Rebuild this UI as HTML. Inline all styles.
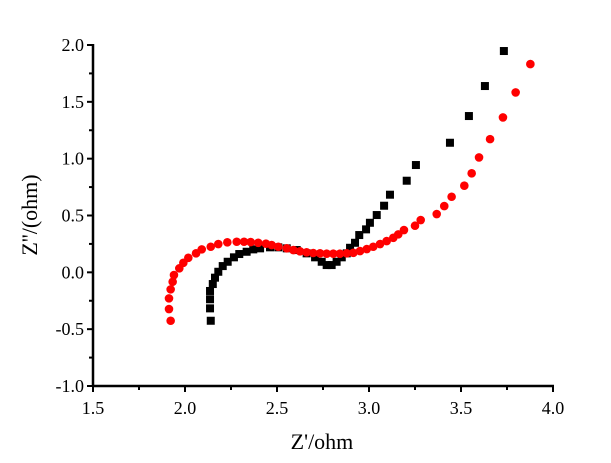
<!DOCTYPE html>
<html><head><meta charset="utf-8"><style>
html,body{margin:0;padding:0;background:#fff;}
svg text{font-family:"Liberation Serif",serif;fill:#000;}
</style></head><body>
<svg id="chart" width="611" height="458" viewBox="0 0 611 458" xmlns="http://www.w3.org/2000/svg">
<g id="axes"></g>
<g id="series-black"></g>
<g id="series-red"></g>
<text x="322" y="449" font-size="22" text-anchor="middle">Z'/ohm</text>
<text transform="translate(37,215) rotate(-90)" font-size="22" text-anchor="middle">Z''/(ohm)</text>
</svg>
<script>
const xTicks = [1.5, 2.0, 2.5, 3.0, 3.5, 4.0];
const xTickLabels = ["1.5","2.0","2.5","3.0","3.5","4.0"];
const yTicks = [-1.0, -0.5, 0.0, 0.5, 1.0, 1.5, 2.0];
const yTickLabels = ["-1.0","-0.5","0.0","0.5","1.0","1.5","2.0"];
const blackX = [2.140,2.136,2.136,2.136,2.151,2.163,2.181,2.205,2.232,2.266,2.295,2.335,2.371,2.408,2.462,2.507,2.553,2.607,2.661,2.707,2.743,2.770,2.797,2.824,2.852,2.879,2.897,2.924,2.947,2.984,3.005,3.042,3.082,3.114,3.205,3.255,3.440,3.543,3.630,3.733];
const blackY = [-0.426,-0.317,-0.237,-0.164,-0.103,-0.047,0.005,0.055,0.093,0.132,0.161,0.181,0.202,0.211,0.220,0.220,0.211,0.196,0.167,0.132,0.093,0.064,0.064,0.093,0.132,0.167,0.216,0.260,0.328,0.378,0.436,0.504,0.586,0.683,0.806,0.944,1.140,1.375,1.639,1.947];
const redX = [1.922,1.913,1.913,1.922,1.933,1.940,1.969,1.991,2.018,2.060,2.091,2.140,2.181,2.230,2.281,2.321,2.357,2.398,2.440,2.471,2.507,2.553,2.589,2.625,2.661,2.697,2.734,2.770,2.806,2.842,2.879,2.915,2.951,2.988,3.023,3.060,3.096,3.132,3.159,3.190,3.250,3.281,3.368,3.409,3.449,3.518,3.558,3.598,3.658,3.728,3.797,3.877];
const redY = [-0.426,-0.323,-0.229,-0.150,-0.083,-0.024,0.035,0.084,0.128,0.167,0.202,0.225,0.249,0.264,0.269,0.269,0.266,0.260,0.252,0.240,0.225,0.211,0.196,0.185,0.176,0.170,0.167,0.164,0.164,0.164,0.167,0.172,0.187,0.205,0.225,0.249,0.275,0.304,0.334,0.372,0.410,0.460,0.513,0.583,0.665,0.762,0.871,1.011,1.172,1.363,1.583,1.832];

const NS="http://www.w3.org/2000/svg";
const X0=93, X1=553, Y0=386, Y1=45;
const xMin=1.5,xMax=4.0,yMin=-1.0,yMax=2.0;
function sx(v){return X0+(v-xMin)/(xMax-xMin)*(X1-X0);}
function sy(v){return Y0-(v-yMin)/(yMax-yMin)*(Y0-Y1);}
function mk(tag,attrs,parent){const e=document.createElementNS(NS,tag);for(const k in attrs)e.setAttribute(k,attrs[k]);parent.appendChild(e);return e;}
const axes=document.getElementById('axes');
let e;
e=mk('line',{x1:X0,y1:Y0,x2:X1+1,y2:Y0,stroke:'#000','stroke-width':2.5},axes);


e=mk('line',{x1:X0,y1:Y0+1,x2:X0,y2:Y1-1,stroke:'#000','stroke-width':2.5},axes);


xTicks.forEach((v,i)=>{
  const x=sx(v);
  e=mk('line',{x1:x,y1:Y0,x2:x,y2:Y0+6,stroke:'#000','stroke-width':2},axes);
  
  
  if(i<xTicks.length-1){
    const xm=sx(v+0.25);
    e=mk('line',{x1:xm,y1:Y0,x2:xm,y2:Y0+4,stroke:'#000','stroke-width':2},axes);
    
    
  }
  e=mk('text',{x:x,y:Y0+28,'font-size':18,'text-anchor':'middle'},axes);
  e.textContent=xTickLabels[i];
  
  
});
yTicks.forEach((v,i)=>{
  const y=sy(v);
  e=mk('line',{x1:X0-6,y1:y,x2:X0,y2:y,stroke:'#000','stroke-width':2},axes);
  
  
  if(i<yTicks.length-1){
    const ym=sy(v+0.25);
    e=mk('line',{x1:X0-4,y1:ym,x2:X0,y2:ym,stroke:'#000','stroke-width':2},axes);
    
    
  }
  e=mk('text',{x:X0-9,y:y+6,'font-size':18,'text-anchor':'end'},axes);
  e.textContent=yTickLabels[i];
  
  
});
const gb=document.getElementById('series-black');
blackX.forEach((v,i)=>{
  e=mk('rect',{x:sx(v)-4,y:sy(blackY[i])-4,width:8,height:8,fill:'#000'},gb);
  
  
});
const gr=document.getElementById('series-red');
redX.forEach((v,i)=>{
  e=mk('circle',{cx:sx(v),cy:sy(redY[i]),r:4.3,fill:'#f00'},gr);
  
  
});
</script>
</body></html>
